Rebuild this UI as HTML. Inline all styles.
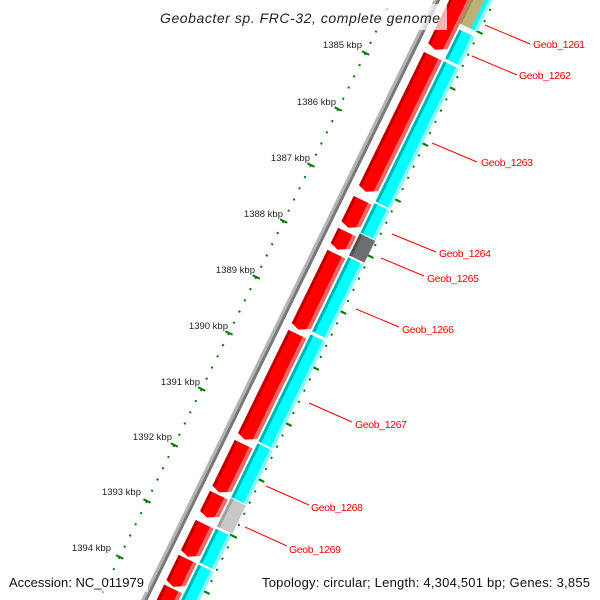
<!DOCTYPE html>
<html><head><meta charset="utf-8"><style>
html,body{margin:0;padding:0;background:#fff;width:600px;height:600px;overflow:hidden;}
svg{display:block;}
text{font-family:"Liberation Sans",sans-serif;}
</style></head><body>
<svg width="600" height="600" viewBox="0 0 600 600" xmlns="http://www.w3.org/2000/svg">
<defs>
<linearGradient id="rg" gradientUnits="userSpaceOnUse" x1="11" y1="0" x2="31" y2="0">
<stop offset="0" stop-color="#b40000"/><stop offset="0.15" stop-color="#b40000"/>
<stop offset="0.15" stop-color="#ff0000"/><stop offset="0.8" stop-color="#ff0000"/>
<stop offset="0.8" stop-color="#ff6464"/><stop offset="1" stop-color="#ff6464"/>
</linearGradient>
<linearGradient id="cg" gradientUnits="userSpaceOnUse" x1="33" y1="0" x2="50" y2="0">
<stop offset="0" stop-color="#00b4b4"/><stop offset="0.18" stop-color="#00b4b4"/>
<stop offset="0.18" stop-color="#00ffff"/><stop offset="0.8" stop-color="#00ffff"/>
<stop offset="0.8" stop-color="#7fffff"/><stop offset="1" stop-color="#7fffff"/>
</linearGradient>
<clipPath id="cp"><rect x="0" y="0" width="600" height="600"/></clipPath>
</defs>
<g clip-path="url(#cp)">
<g transform="translate(437,0) rotate(26)">
<rect x="-3" y="-60" width="3" height="760" fill="#b4b4b4"/>
<rect x="0" y="-60" width="3" height="760" fill="#787878"/>
<line x1="-41" y1="-45.6" x2="-41" y2="700" stroke="#007800" stroke-width="2" stroke-dasharray="2 10.46"/>
<g stroke="#007800" stroke-width="2">
<line x1="-45" y1="16.7" x2="-37" y2="16.7"/><line x1="-45" y1="79" x2="-37" y2="79"/>
<line x1="-45" y1="141.3" x2="-37" y2="141.3"/><line x1="-45" y1="203.6" x2="-37" y2="203.6"/>
<line x1="-45" y1="265.9" x2="-37" y2="265.9"/><line x1="-45" y1="328.2" x2="-37" y2="328.2"/>
<line x1="-45" y1="390.5" x2="-37" y2="390.5"/><line x1="-45" y1="452.8" x2="-37" y2="452.8"/>
<line x1="-45" y1="515.1" x2="-37" y2="515.1"/><line x1="-45" y1="577.4" x2="-37" y2="577.4"/>
<line x1="-45" y1="639.7" x2="-37" y2="639.7"/>
</g>
<line x1="52" y1="-15.4" x2="52" y2="700" stroke="#007800" stroke-width="2" stroke-dasharray="2 10.46"/>
<g stroke="#007800" stroke-width="2">
<line x1="48" y1="10.5" x2="56" y2="10.5"/><line x1="48" y1="72.8" x2="56" y2="72.8"/>
<line x1="48" y1="135.1" x2="56" y2="135.1"/><line x1="48" y1="197.4" x2="56" y2="197.4"/>
<line x1="48" y1="259.7" x2="56" y2="259.7"/><line x1="48" y1="322" x2="56" y2="322"/>
<line x1="48" y1="384.3" x2="56" y2="384.3"/><line x1="48" y1="446.6" x2="56" y2="446.6"/>
<line x1="48" y1="508.9" x2="56" y2="508.9"/><line x1="48" y1="571.2" x2="56" y2="571.2"/>
<line x1="48" y1="633.5" x2="56" y2="633.5"/>
</g>
<g fill="url(#rg)">
<polygon points="11,-60 31,-60 31,39.6 20,45.6 11,42.6"/>
<polygon points="11,52.3 31,52.3 31,197.6 20,203.6 11,200.6"/>
<polygon points="11,212.5 31,212.5 31,237.6 20,243.6 11,240.6"/>
<polygon points="11,248 31,248 31,262 20,268 11,265"/>
<polygon points="11,272.5 31,272.5 31,351 20,357 11,354"/>
<polygon points="11,361.5 31,361.5 31,473.4 20,479.4 11,476.4"/>
<polygon points="11,484 31,484 31,532 20,538 11,535"/>
<polygon points="11,540.6 31,540.6 31,560 20,566 11,563"/>
<polygon points="11,573 31,573 31,603.6 20,609.6 11,606.6"/>
<polygon points="11,611.8 31,611.8 31,637 20,643 11,640"/>
<polygon points="11,645 31,645 31,696 20,702 11,699"/>
</g>
<g fill="url(#cg)">
<rect x="33" y="-60" width="17" height="71"/>
<rect x="33" y="16.7" width="17" height="32.3"/>
<rect x="33" y="52" width="17" height="156"/>
<rect x="33" y="210" width="17" height="32.5"/>
<rect x="33" y="270" width="17" height="82.6"/>
<rect x="33" y="356" width="17" height="119"/>
<rect x="33" y="477" width="17" height="60"/>
<rect x="33" y="572" width="17" height="37.6"/>
<rect x="33" y="612" width="17" height="90"/>
</g>
<rect x="30" y="-60" width="13" height="71" fill="#bdb176"/>
<rect x="30" y="-60" width="2.5" height="71" fill="#9a8f58"/>
<rect x="33" y="243.6" width="17" height="24.4" fill="#6e6e6e"/>
<rect x="33" y="243.6" width="3" height="24.4" fill="#505050"/>
<rect x="33" y="538" width="17" height="31.5" fill="#c8c8c8"/>
<rect x="33" y="538" width="3" height="31.5" fill="#a0a0a0"/>
</g>
</g>
<g stroke="#ff0000" stroke-width="1">
<line x1="485" y1="25" x2="530" y2="44"/>
<line x1="472" y1="56" x2="517" y2="75"/>
<line x1="432" y1="143" x2="477" y2="162"/>
<line x1="392" y1="234" x2="436" y2="252"/>
<line x1="381" y1="258" x2="424" y2="276"/>
<line x1="356" y1="309" x2="399" y2="327"/>
<line x1="309" y1="403" x2="352" y2="422"/>
<line x1="266" y1="486" x2="309" y2="505"/>
<line x1="245" y1="527" x2="287" y2="546"/>
</g>
<g fill="#ff0000" font-size="10.5">
<text x="533" y="48" textLength="52">Geob_1261</text>
<text x="519" y="79" textLength="52">Geob_1262</text>
<text x="481" y="166" textLength="52">Geob_1263</text>
<text x="439" y="257" textLength="52">Geob_1264</text>
<text x="427" y="282" textLength="52">Geob_1265</text>
<text x="402" y="333" textLength="52">Geob_1266</text>
<text x="355" y="428" textLength="52">Geob_1267</text>
<text x="311" y="511" textLength="52">Geob_1268</text>
<text x="289" y="553" textLength="52">Geob_1269</text>
</g>
<g fill="#222" font-size="9.5" text-anchor="end">
<text x="362" y="48">1385 kbp</text>
<text x="336" y="105">1386 kbp</text>
<text x="310" y="161">1387 kbp</text>
<text x="283" y="217">1388 kbp</text>
<text x="255" y="273">1389 kbp</text>
<text x="228" y="329">1390 kbp</text>
<text x="200" y="385">1391 kbp</text>
<text x="172" y="440">1392 kbp</text>
<text x="141" y="495">1393 kbp</text>
<text x="111" y="551">1394 kbp</text>
</g>
<rect x="155" y="4" width="292" height="26" fill="#fff" fill-opacity="0.7"/>
<text x="160" y="23" font-size="14" font-style="italic" textLength="280" lengthAdjust="spacing" fill="#222">Geobacter sp. FRC-32, complete genome</text>
<rect x="5" y="572" width="143" height="20" fill="#fff" fill-opacity="0.7"/>
<text x="9" y="587" font-size="13" fill="#111" textLength="135">Accession: NC_011979</text>
<text x="262" y="587" font-size="13" fill="#111" textLength="328" lengthAdjust="spacing">Topology: circular; Length: 4,304,501 bp; Genes: 3,855</text>
</svg>
</body></html>
